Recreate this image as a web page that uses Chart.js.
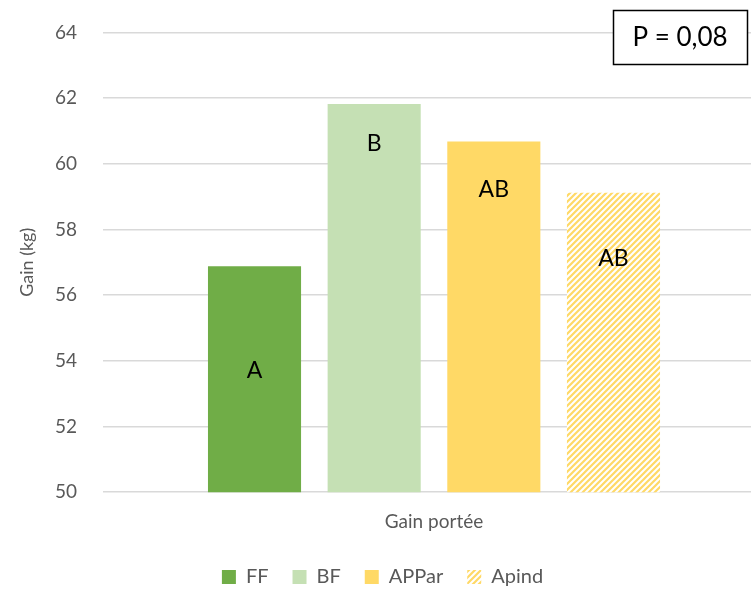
<!DOCTYPE html>
<html>
<head>
<meta charset="utf-8">
<script src="https://cdn.jsdelivr.net/npm/chart.js@4.4.1/dist/chart.umd.min.js"></script>
<style>
  html, body { margin: 0; padding: 0; background: #fff; overflow: hidden; }
  #wrap { width: 765px; height: 602px; margin-top: -5px; }
</style>
</head>
<body>
<div id="wrap"><canvas id="myBar"></canvas></div>
<script>
const categories = ['Gain portée'];
const seriesNames = ['FF', 'BF', 'APPar', 'Apind'];
const seriesValues = [56.88, 61.82, 60.68, 59.12];
const letters = ['A', 'B', 'AB', 'AB'];
const letterAt = [53.7, 60.6, 59.2, 57.1];
const yTicks = [50, 52, 54, 56, 58, 60, 62, 64];
const pText = 'P = 0,08';

const FONT = 'Lato, "Open Sans", sans-serif';

function hatch(color) {
  const c = document.createElement('canvas');
  c.width = 6; c.height = 6;
  const g = c.getContext('2d');
  g.fillStyle = '#fff';
  g.fillRect(0, 0, 6, 6);
  g.strokeStyle = color;
  g.lineWidth = 2.2;
  g.beginPath();
  g.moveTo(-1, 7); g.lineTo(7, -1);
  g.moveTo(-4, 4); g.lineTo(4, -4);
  g.moveTo(2, 10); g.lineTo(10, 2);
  g.stroke();
  return g.createPattern(c, 'repeat');
}

const fills = ['#70AD47', '#C5E0B4', '#FFD966', hatch('#FFD966')];

const barLetters = {
  id: 'barLetters',
  afterDatasetsDraw(chart) {
    const ctx = chart.ctx;
    const y = chart.scales.y;
    ctx.save();
    ctx.font = '23px ' + FONT;
    ctx.fillStyle = '#000';
    ctx.textAlign = 'center';
    ctx.textBaseline = 'middle';
    letters.forEach((t, i) => {
      const bar = chart.getDatasetMeta(i).data[0];
      ctx.fillText(t, bar.x, y.getPixelForValue(letterAt[i]));
    });
    // P value box (canvas is shifted up by 5px)
    ctx.fillStyle = '#fff';
    ctx.fillRect(613, 15, 135, 55);
    ctx.strokeStyle = '#000';
    ctx.lineWidth = 1.5;
    ctx.strokeRect(613.5, 15.5, 134, 54);
    ctx.fillStyle = '#000';
    ctx.font = '26px ' + FONT;
    ctx.fillText(pText, 680, 43);
    ctx.restore();
  }
};

const datasets = seriesNames.map((name, i) => ({
  label: name,
  data: [seriesValues[i]],
  backgroundColor: fills[i],
  borderWidth: 0,
  categoryPercentage: 0.723,
  barPercentage: 0.778
}));

const canvas = document.getElementById('myBar');
new Chart(canvas.getContext('2d'), {
  type: 'bar',
  data: { labels: categories, datasets },
  options: {
    responsive: true,
    maintainAspectRatio: false,
    animation: false,
    layout: { padding: { top: 12, right: 0, left: 0, bottom: 0 } },
    plugins: {
      legend: {
        position: 'bottom',
        labels: {
          boxWidth: 14,
          boxHeight: 14,
          color: '#595959',
          font: { family: FONT, size: 20 },
          padding: 24
        }
      },
      tooltip: { enabled: false }
    },
    scales: {
      x: {
        grid: { display: false },
        border: { display: false },
        ticks: { color: '#595959', font: { family: FONT, size: 19 }, padding: 10 }
      },
      y: {
        min: 50,
        max: 64,
        afterBuildTicks: (ax) => { ax.ticks = yTicks.map(v => ({ value: v })); },
        afterFit: (ax) => { ax.width = 103; },
        grid: { color: '#d9d9d9', lineWidth: 1.5, drawTicks: false },
        border: { display: false },
        ticks: { color: '#595959', font: { family: FONT, size: 19 }, padding: 26 },
        title: { display: true, text: 'Gain (kg)', color: '#595959', font: { family: FONT, size: 18 }, padding: { top: 16, bottom: 0 } }
      }
    }
  },
  plugins: [barLetters]
});
</script>
</body>
</html>
